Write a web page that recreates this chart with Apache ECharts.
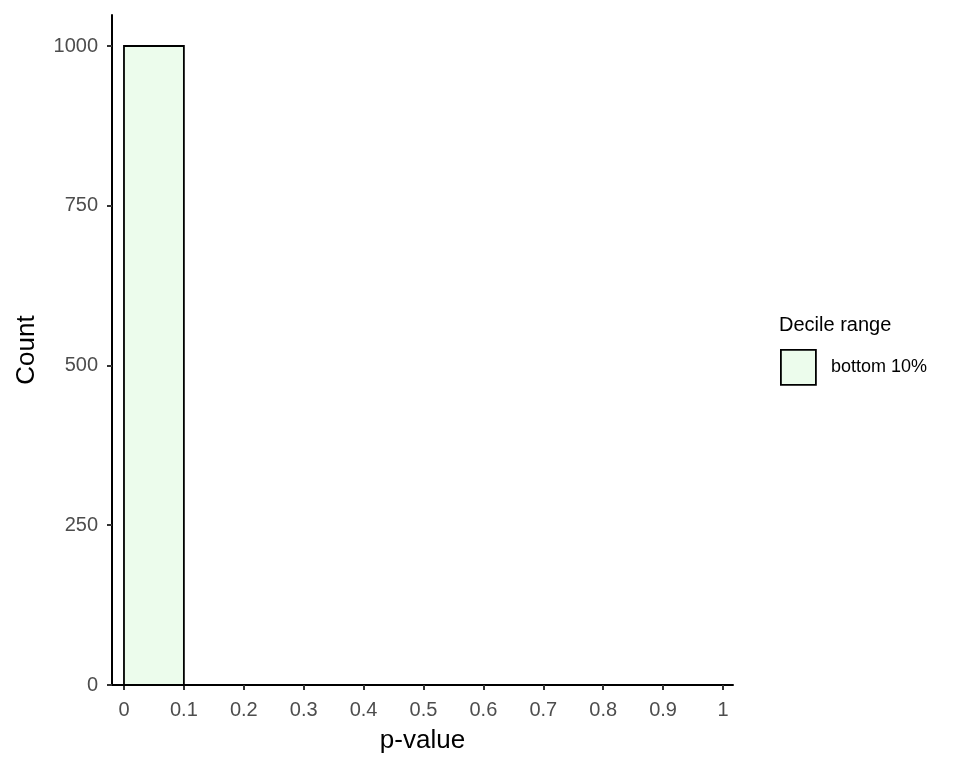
<!DOCTYPE html>
<html><head><meta charset="utf-8">
<script src="https://cdn.jsdelivr.net/npm/echarts@6/dist/echarts.min.js"></script>
<style>html,body{margin:0;padding:0;background:#fff}#c{width:960px;height:768px}</style>
</head><body><div id="c"></div>
<script>
const binStarts = [0];
const binEnds = [0.1];
const counts = [1000];
const xTicks = [0,0.1,0.2,0.3,0.4,0.5,0.6,0.7,0.8,0.9,1];
const yTicks = [0,250,500,750,1000];
const seriesName = 'bottom 10%';
const legendTitle = 'Decile range';

const data = binStarts.map((s,i)=>[s, binEnds[i], counts[i]]);
const chart = echarts.init(document.getElementById('c'));
const fill = '#ECFCEC';
const FF = 'Liberation Sans, Arial, sans-serif';
chart.setOption({
  animation:false,
  backgroundColor:'#fff',
  textStyle:{fontFamily:FF},
  grid:{left:112,right:227,top:15,bottom:83,containLabel:false},
  title:{text:legendTitle,left:779,top:315,padding:0,textStyle:{fontSize:20,fontWeight:'normal',color:'#000',fontFamily:FF}},
  legend:{left:780,top:349,padding:0,orient:'vertical',itemWidth:35,itemHeight:35,itemGap:8,
    data:[{name:seriesName,icon:'rect',itemStyle:{color:fill,borderColor:'#000',borderWidth:1.8}}],
    textStyle:{fontSize:18,color:'#000',padding:[3,0,0,10]}},
  xAxis:{type:'value',min:-0.02,max:1.0167,
    name:'p-value',nameLocation:'middle',nameGap:43,nameTextStyle:{fontSize:26,color:'#000'},
    axisLine:{show:true,onZero:false,lineStyle:{color:'#000',width:2}},
    axisTick:{show:true,customValues:xTicks,length:5,lineStyle:{color:'#333',width:2}},
    axisLabel:{customValues:xTicks,fontSize:20,color:'#4D4D4D',margin:15,formatter:v=>String(+v.toFixed(2))},
    splitLine:{show:false}},
  yAxis:{type:'value',min:0,max:1048.5,
    name:'Count',nameLocation:'middle',nameGap:72,nameRotate:90,nameTextStyle:{fontSize:26,color:'#000'},
    axisLine:{show:true,onZero:false,lineStyle:{color:'#000',width:2}},
    axisTick:{show:true,customValues:yTicks,length:5,lineStyle:{color:'#333',width:2}},
    axisLabel:{customValues:yTicks,fontSize:20,color:'#4D4D4D',margin:14,formatter:v=>String(v)},
    splitLine:{show:false}},
  series:[{
    name:seriesName,type:'custom',
    itemStyle:{color:fill,borderColor:'#000',borderWidth:1.8},
    renderItem:function(params,api){
      const p0 = api.coord([api.value(0),0]);
      const p1 = api.coord([api.value(1),api.value(2)]);
      return {type:'rect',shape:{x:p0[0],y:p1[1],width:p1[0]-p0[0],height:p0[1]-p1[1]},
        style:{fill:fill,stroke:'#000',lineWidth:1.8}};
    },
    encode:{x:[0,1],y:2},
    data:data
  }]
});
</script></body></html>
